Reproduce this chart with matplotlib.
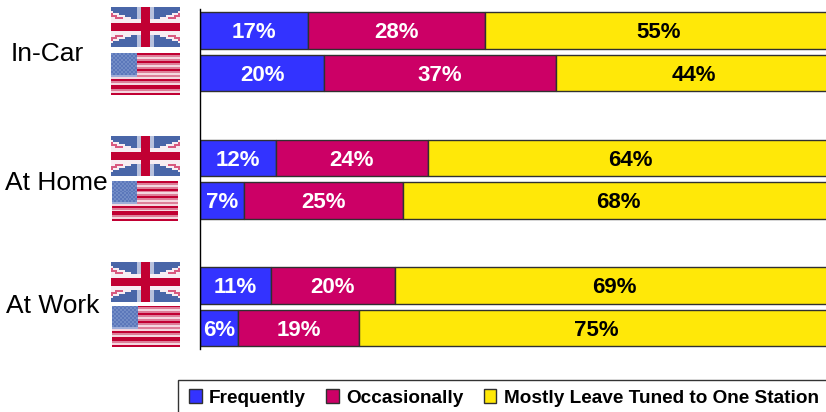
import numpy as np
import matplotlib
matplotlib.use("Agg")
import matplotlib.pyplot as plt
from matplotlib.patches import Rectangle

W, H = 826, 412
plt.rcParams['font.family'] = ['Liberation Sans', 'DejaVu Sans']

# Data (top to bottom; each setting has a UK row then a US row)
rows = ['In-Car UK', 'In-Car US', 'At Home UK', 'At Home US', 'At Work UK', 'At Work US']
row_pos = [0, 1, 3, 4, 6, 7]
frequently = [17.0, 19.6, 12.0, 7.0, 11.2, 6.0]
occasionally = [28.0, 36.6, 24.0, 25.1, 19.6, 19.1]
mostly = [55.0, 43.8, 64.0, 67.9, 69.2, 74.9]
series_names = ['Frequently', 'Occasionally', 'Mostly Leave Tuned to One Station']
series_colors = ['#3333FF', '#CC0066', '#FFE808']
label_colors = ['white', 'white', 'black']
group_labels = ['In-Car', 'At Home', 'At Work']


def px_axes(fig, x0, y0, x1, y1):
    return fig.add_axes([x0 / W, 1 - y1 / H, (x1 - x0) / W, (y1 - y0) / H])


def uk_flag(w=34, h=20):
    blue, red, white = np.array([0.29, 0.40, 0.66]), np.array([0.76, 0.0, 0.2]), np.array([0.97, 0.93, 0.95])
    pale = np.array([0.72, 0.76, 0.87])
    img = np.zeros((h, w, 3))
    for j in range(h):
        for i in range(w):
            u, v = (i + .5) / w - .5, (j + .5) / h - .5
            d1 = abs(u * h / w - v) * h
            d2 = abs(u * h / w + v) * h
            c = blue
            if min(d1, d2) < 2.0:
                c = white
            if min(d1, d2) < 0.8:
                c = np.array([0.85, 0.35, 0.5])
            if abs(u) * w < 3.6:
                c = pale
            if abs(v) * h < 3.8:
                c = white
            if abs(u) * w < 2.2 or abs(v) * h < 2.0:
                c = red
            img[j, i] = c
    return img


def us_flag(w=34, h=21):
    red, pink, pale = np.array([0.76, 0.0, 0.2]), np.array([0.87, 0.5, 0.6]), np.array([0.96, 0.85, 0.88])
    bands = [red, pink, pale, pink, red, pink, pale, pink, red, pink, pale, pink, pale, red, pink, pale, red, red, pink, pale, red]
    img = np.zeros((h, w, 3))
    for j in range(h):
        img[j, :] = bands[j % len(bands)]
    for j in range(12):
        for i in range(13):
            img[j, i] = [0.36, 0.47, 0.73] if (i + j) % 2 else [0.45, 0.55, 0.78]
    img[11, :13] = [0.62, 0.68, 0.85]
    return img


fig = plt.figure(figsize=(W / 100, H / 100), dpi=100, facecolor='white')
ax = px_axes(fig, 200, 9, 826, 349)

left = np.zeros(len(rows))
handles = []
for vals, name, col, lc in zip([frequently, occasionally, mostly], series_names, series_colors, label_colors):
    bars = ax.barh(row_pos, vals, left=left, height=0.85, color=col, edgecolor='#303030', linewidth=1.0, label=name)
    handles.append(bars)
    for y, v, l in zip(row_pos, vals, left):
        ax.text(l + v / 2, y + 0.05, f'{round(v)}%', ha='center', va='center', color=lc,
                fontsize=16, fontweight='bold')
    left = left + np.array(vals)

ax.set_xlim(0, 626 / 6.33)
ax.set_ylim(7.494, -0.506)
ax.set_xticks([])
ax.set_yticks([])
for s in ['top', 'right', 'bottom']:
    ax.spines[s].set_visible(False)
ax.spines['left'].set_linewidth(1.0)
ax.spines['left'].set_color('black')

# Category labels
for txt, x, y in zip(group_labels, [47, 56, 53], [54, 183, 306]):
    fig.text(x / W, 1 - y / H, txt, ha='center', va='center', fontsize=19, color='black')

# Flags
flag_boxes = [('uk', 111, 7, 179, 47), ('us', 111, 53, 179, 95),
              ('uk', 111, 136, 179, 176), ('us', 112, 181, 178, 221),
              ('uk', 111, 262, 179, 302), ('us', 112, 306, 180, 347)]
uk, us = uk_flag(), us_flag()
for kind, x0, y0, x1, y1 in flag_boxes:
    a = px_axes(fig, x0, y0, x1, y1)
    a.imshow(uk if kind == 'uk' else us, aspect='auto', interpolation='nearest')
    a.axis('off')

# Legend: the frame runs past the right and bottom edges of the picture
fig.add_artist(Rectangle((178 / W, -4 / H), 660 / W, 36 / H, transform=fig.transFigure,
                         facecolor='white', edgecolor='#333333', linewidth=1.0))
leg = fig.legend(handles=handles, labels=series_names, ncol=3, loc='lower left',
                 bbox_to_anchor=(189 / W, 5 / H), bbox_transform=fig.transFigure,
                 prop={'weight': 'bold', 'size': 13.7}, frameon=False,
                 handlelength=0.66, handleheight=0.75,
                 handletextpad=0.4, columnspacing=1.05, borderaxespad=0, borderpad=0)

fig.savefig('out.png', dpi=100)
